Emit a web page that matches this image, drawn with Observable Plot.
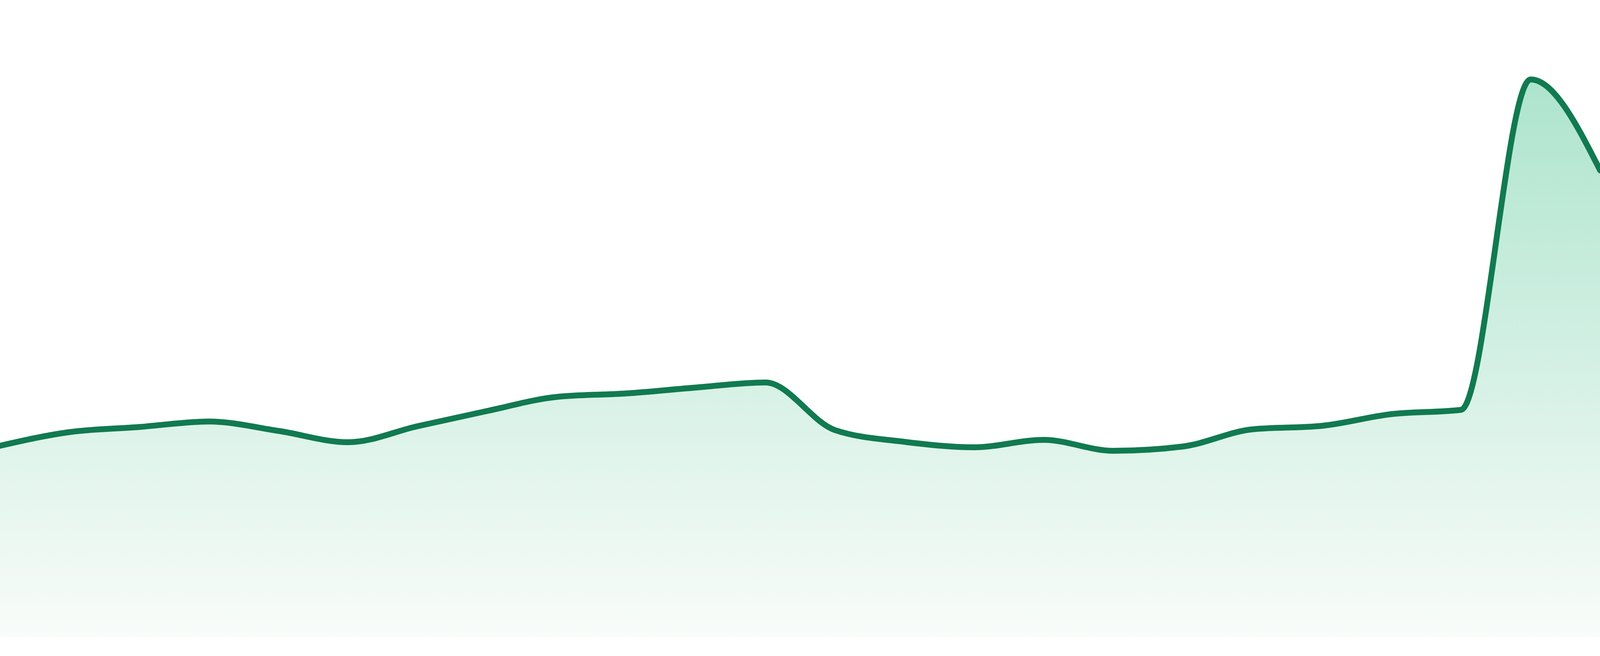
<!DOCTYPE html>
<html>
<head>
<meta charset="utf-8">
<script src="https://cdn.jsdelivr.net/npm/d3@7"></script>
<script src="https://cdn.jsdelivr.net/npm/@observablehq/plot@0.6"></script>
<style>
  html, body { margin: 0; padding: 0; background: #ffffff; overflow: hidden; }
  #chart svg { display: block; }
</style>
</head>
<body>
<div id="chart"></div>
<script>
// Sequence positions (evenly spaced along x)
const steps = [0, 1, 2, 3, 4, 5, 6, 7, 8, 9, 10, 11, 12, 13, 14, 15, 16, 17, 18, 19, 20, 21, 22, 23];
// Series values
const values = [491, 526, 539, 553, 529, 500, 541, 580, 616, 625, 640, 653,
                531, 501, 487, 506, 478, 489, 533, 542, 572, 583, 1429, 1196];

const data = steps.map((s, i) => ({step: s, value: values[i]}));

const lineColor = "#117a50";

const defs = () => {
  const d = d3.create("svg:defs");
  const g = d.append("linearGradient")
    .attr("id", "areaGradient")
    .attr("x1", 0).attr("y1", 0).attr("x2", 0).attr("y2", 1);
  g.append("stop").attr("offset", "0%").attr("stop-color", "rgb(173,228,205)");
  g.append("stop").attr("offset", "100%").attr("stop-color", "rgb(249,252,250)");
  return d.node();
};

// Fill the actual browser viewport (the window may be capped narrower than 4800)
const W = Math.min(window.innerWidth || 4800, 4800);
const H = 1680;

const chart = Plot.plot({
  width: W,
  height: H,
  marginTop: 0,
  marginRight: 0,
  marginBottom: 48,
  marginLeft: 0,
  style: {background: "#ffffff"},
  x: {domain: [0, 23], axis: null},
  y: {domain: [0, 1632], axis: null},
  marks: [
    defs,
    Plot.areaY(data, {x: "step", y: "value", curve: "monotone-x", fill: "url(#areaGradient)"}),
    Plot.lineY(data, {x: "step", y: "value", curve: "monotone-x", stroke: lineColor, strokeWidth: 15})
  ]
});

document.getElementById("chart").append(chart);
</script>
</body>
</html>
